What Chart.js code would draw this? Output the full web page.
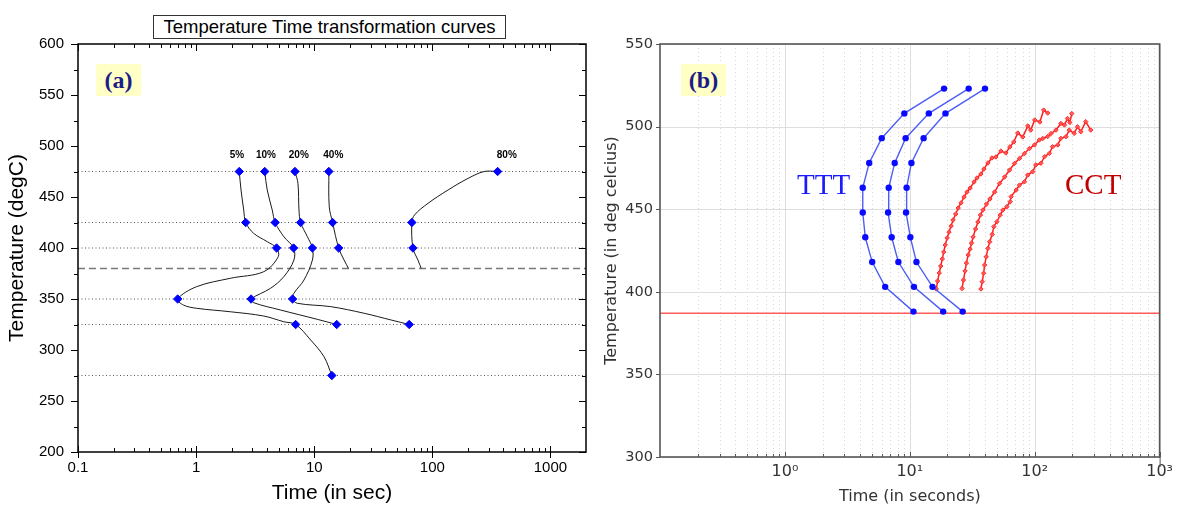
<!DOCTYPE html>
<html>
<head>
<meta charset="utf-8">
<script src="https://cdn.jsdelivr.net/npm/chart.js@4.4.1/dist/chart.umd.min.js"></script>
<style>
body { margin: 0; background: #fff; }
#page { position: relative; width: 1178px; height: 506px; overflow: hidden; background: #fff; }
.wrap { position: absolute; top: 0; height: 506px; }
#titleA {
    position: absolute; left: 153px; top: 15px; width: 351px; height: 22px;
    border: 1px solid #333; background: #fff; text-align: center; line-height: 22px;
    font-family: "Liberation Sans", Arial, sans-serif; font-size: 18.5px; color: #000;
}
.tag {
    position: absolute; width: 45px; height: 32px; background: #ffffc6; text-align: center;
    line-height: 32px; font-family: "Liberation Serif", "Times New Roman", serif;
    font-weight: bold; font-size: 24px; color: #1c1c86;
}
.big {
    position: absolute; top: 170px; font-family: "Liberation Serif", "Times New Roman", serif;
    font-size: 29px; line-height: 29px;
}
</style>
</head>
<body>
<div id="page">
    <div class="wrap" style="left:0;width:596px"><canvas id="chartA"></canvas></div>
    <div class="wrap" style="left:598px;width:580px"><canvas id="chartB"></canvas></div>
    <div id="titleA">Temperature Time transformation curves</div>
    <div class="tag" style="left:96px;top:64px">(a)</div>
    <div class="tag" style="left:681px;top:64px">(b)</div>
    <div class="big" style="left:797px;color:#1a1aff">TTT</div>
    <div class="big" style="left:1065px;color:#c20000">CCT</div>
</div>
<script>
// ---------- panel (a) ----------
var levelTempsA = [475, 425, 400, 350, 325, 275];
var dashedTempA = 380;
var timeTicksA = [0.1, 1, 10, 100, 1000];
var timeTickLabelsA = ['0.1', '1', '10', '100', '1000'];
var pctNames = ['5%', '10%', '20%', '40%', '80%'];
var pctTimes = [2.22, 3.9, 7.4, 14.5, 427];
var pctTemp = 491;

// diamonds [time (sec), temp]
var dia5 = [[2.32, 475], [2.63, 425], [4.80, 400], [0.698, 350], [6.96, 325], [14.1, 275]];
var dia10 = [[3.81, 475], [4.67, 425], [6.69, 400], [2.92, 350], [15.5, 325]];
var dia20 = [[6.87, 475], [7.67, 425], [9.65, 400], [6.56, 350], [63.7, 325]];
var dia40 = [[13.3, 475], [14.3, 425], [16.1, 400]];
var dia80 = [[357, 475], [67.1, 425], [68.5, 400]];

// black curves through the diamonds
var curve5 = [[2.32, 475], [2.40, 456.9], [2.53, 437.3], [2.63, 425], [3.07, 414.4], [4.0, 406.2], [4.80, 400],
    [4.96, 391.5], [3.74, 376.8], [1.95, 370.3], [1.01, 362.1], [0.698, 350], [0.78, 344.1], [1.01, 340.9],
    [1.95, 337.5], [3.74, 333.3], [5.53, 327.7], [6.96, 325], [9.33, 309.8], [12.1, 293.4], [14.1, 275]];
var curve10 = [[3.81, 475], [4.0, 456.9], [4.41, 437.3], [4.67, 425], [5.53, 411.1], [6.69, 400], [6.73, 388.2],
    [5.53, 371.9], [4.27, 360.5], [2.92, 350], [3.07, 346.4], [5.19, 339.2], [10.6, 330.1], [15.5, 325]];
var curve20 = [[6.87, 475], [7.28, 463.4], [7.43, 437.3], [7.67, 425], [8.75, 411.1], [9.65, 400], [9.65, 388.2],
    [8.19, 368.6], [6.73, 355.6], [6.56, 350], [7.19, 345.8], [13.8, 342.5], [26.5, 336], [44.8, 329.4], [63.7, 325]];
var curve40 = [[13.3, 475], [13.4, 440.5], [14.3, 425], [16.1, 400], [17.9, 388.2], [19.5, 380]];
var curve80 = [[357, 475], [275, 475], [201, 468.3], [136, 456.9], [91.9, 443.8], [70.7, 432.4], [67.1, 425],
    [68.5, 400], [75.5, 388.2], [80.5, 380]];

// ---------- panel (b) ----------
var redLineTemp = 387;
var timeTicksB = [1, 10, 100, 1000];
var timeTickLabelsB = ['10\u2070', '10\u00b9', '10\u00b2', '10\u00b3'];
var tttTemps = [388, 403, 418, 433, 448, 463, 478, 493, 508, 523];
var ttt1 = [10.7, 6.35, 5.0, 4.4, 4.2, 4.2, 4.73, 5.96, 9.04, 18.8];
var ttt2 = [18.5, 10.8, 8.1, 7.16, 6.7, 6.78, 7.57, 9.26, 14.2, 29.6];
var ttt3 = [26.5, 15.2, 11.3, 10.1, 9.33, 9.43, 10.3, 12.9, 19.3, 40];
var cct1 = [[16.3, 401.7], [16.7, 406.5], [17.2, 411.4], [17.7, 415.6], [18.2, 419.9], [18.7, 424.1], [19.2, 428.3],
    [19.9, 432.6], [20.6, 436.2], [21.4, 439.8], [22.2, 443.5], [23.3, 447.1], [24.4, 450.7], [25.7, 453.8],
    [27.2, 457.4], [28.7, 460.4], [30.4, 462.8], [32.7, 466.5], [34.5, 468.9], [37.1, 471.3], [39.2, 474.3],
    [42.2, 478.0], [45.4, 481.0], [48.9, 481.6], [53.6, 485.2], [58.8, 484.0], [63.2, 487.7], [68.0, 490.7],
    [73.2, 496.1], [80.2, 493.7], [88.0, 500.4], [92.9, 497.9], [100, 504.0], [110, 502.8], [118, 510.0], [127, 508.2]];
var cct2 = [[26.2, 402.0], [26.9, 407.1], [27.7, 412.6], [28.4, 417.4], [29.3, 422.3], [30.4, 425.9], [31.2, 429.5],
    [32.1, 433.2], [33.6, 438.0], [35.1, 442.3], [36.8, 446.5], [38.5, 449.5], [41.1, 453.1], [43.8, 456.2],
    [47.7, 460.4], [52.3, 465.6], [57.4, 469.5], [62.9, 473.7], [68.9, 477.7], [75.5, 480.7], [82.8, 483.7],
    [90.7, 486.7], [99.5, 488.9], [109, 491.9], [116, 492.8], [127, 494.0], [135, 495.8], [148, 497.9],
    [162, 501.9], [173, 501.0], [183, 504.9], [191, 502.5], [198, 507.9]];
var cct3 = [[37.1, 401.7], [38.0, 406.1], [39.0, 411.2], [39.7, 416.2], [40.9, 421.2], [42.2, 426.3], [43.6, 430.3],
    [45.7, 434.8], [47.1, 439.4], [49.8, 442.4], [52.9, 446.5], [55.6, 449.5], [59.8, 451.5], [63.6, 454.5],
    [64.7, 457.6], [71.0, 461.6], [75.5, 464.6], [82.8, 466.6], [87.9, 470.7], [96.4, 472.7], [102, 476.8],
    [112, 477.8], [120, 481.8], [131, 483.8], [139, 487.8], [153, 488.9], [162, 492.9], [178, 493.9],
    [189, 497.9], [207, 495.9], [220, 499.9], [234, 496.9], [256, 503.0], [281, 497.9]];

var fontA = '"Liberation Sans", Arial, sans-serif';
var fontB = '"DejaVu Sans", Verdana, sans-serif';

function xy(list) {
    return list.map(function (p) { return { x: p[0], y: p[1] }; });
}
function zipXY(times, temps) {
    return times.map(function (t, i) { return { x: t, y: temps[i] }; });
}
function seg(ctx, x0, y0, x1, y1) {
    ctx.beginPath();
    ctx.moveTo(x0, y0);
    ctx.lineTo(x1, y1);
    ctx.stroke();
}
// 2..9 x 10^k inside the axis range (minor tick / grid places)
function logMinors(min, max) {
    var out = [];
    for (var e = Math.floor(Math.log10(min)); e <= Math.ceil(Math.log10(max)); e++) {
        for (var d = 2; d <= 9; d++) {
            var v = d * Math.pow(10, e);
            if (v > min * 1.0001 && v < max * 0.9999) out.push(v);
        }
    }
    return out;
}

var frameA = {
    id: 'frameA',
    afterDatasetsDraw: function (chart) {
        var ctx = chart.ctx, a = chart.chartArea, x = chart.scales.x, y = chart.scales.y;
        ctx.save();
        ctx.strokeStyle = '#000';
        ctx.lineWidth = 1;
        timeTicksA.forEach(function (v) {
            var px = Math.round(x.getPixelForValue(v)) + 0.5;
            seg(ctx, px, a.bottom, px, a.bottom + 6);
            seg(ctx, px, a.bottom, px, a.bottom - 6);
            seg(ctx, px, a.top, px, a.top + 7);
        });
        logMinors(x.min, x.max).forEach(function (v) {
            var px = Math.round(x.getPixelForValue(v)) + 0.5;
            seg(ctx, px, a.bottom, px, a.bottom - 4);
            seg(ctx, px, a.top, px, a.top + 4);
        });
        for (var t = y.min; t <= y.max; t += 25) {
            var py = Math.round(y.getPixelForValue(t)) + 0.5;
            var major = t % 50 === 0;
            seg(ctx, a.left, py, a.left - (major ? 7 : 4), py);
            seg(ctx, a.right, py, a.right - (major ? 7 : 4), py);
        }
        ctx.lineWidth = 1.5;
        ctx.strokeRect(a.left, a.top, a.right - a.left, a.bottom - a.top);
        ctx.fillStyle = '#000';
        ctx.font = 'bold 10px ' + fontA;
        ctx.textAlign = 'center';
        ctx.textBaseline = 'middle';
        pctNames.forEach(function (name, i) {
            ctx.fillText(name, x.getPixelForValue(pctTimes[i]), y.getPixelForValue(pctTemp));
        });
        ctx.restore();
    }
};

var gridB = {
    id: 'gridB',
    beforeDatasetsDraw: function (chart) {
        var ctx = chart.ctx, a = chart.chartArea, x = chart.scales.x, y = chart.scales.y;
        ctx.save();
        ctx.lineWidth = 1;
        ctx.strokeStyle = '#d6d6d6';
        ctx.setLineDash([1, 3]);
        logMinors(x.min, x.max).forEach(function (v) {
            var px = Math.round(x.getPixelForValue(v)) + 0.5;
            seg(ctx, px, a.top, px, a.bottom);
        });
        ctx.setLineDash([]);
        ctx.strokeStyle = '#dedede';
        timeTicksB.forEach(function (v) {
            var px = Math.round(x.getPixelForValue(v)) + 0.5;
            seg(ctx, px, a.top, px, a.bottom);
        });
        y.ticks.forEach(function (t) {
            var py = Math.round(y.getPixelForValue(t.value)) + 0.5;
            seg(ctx, a.left, py, a.right, py);
        });
        ctx.restore();
    },
    afterDatasetsDraw: function (chart) {
        var ctx = chart.ctx, a = chart.chartArea, x = chart.scales.x, y = chart.scales.y;
        ctx.save();
        ctx.strokeStyle = '#555';
        ctx.lineWidth = 1;
        logMinors(x.min, x.max).forEach(function (v) {
            var px = Math.round(x.getPixelForValue(v)) + 0.5;
            seg(ctx, px, a.bottom, px, a.bottom - 3);
        });
        timeTicksB.forEach(function (v) {
            var px = Math.round(x.getPixelForValue(v)) + 0.5;
            seg(ctx, px, a.bottom, px, a.bottom - 5);
        });
        y.ticks.forEach(function (t) {
            var py = Math.round(y.getPixelForValue(t.value)) + 0.5;
            seg(ctx, a.left, py, a.left - 4, py);
        });
        seg(ctx, a.right + 0.5, a.bottom, a.right + 0.5, a.bottom + 10);
        ctx.lineWidth = 1.6;
        ctx.strokeRect(a.left, a.top, a.right - a.left, a.bottom - a.top);
        ctx.restore();
    }
};

// ---------- chart (a) ----------
var dsA = [];
[dia5, dia10, dia20, dia40, dia80].forEach(function (d) {
    dsA.push({
        data: xy(d), showLine: false, pointStyle: 'rectRot', pointRadius: 4.2,
        pointBackgroundColor: '#0000ff', pointBorderColor: '#0000ff', pointBorderWidth: 1
    });
});
[curve5, curve10, curve20, curve40, curve80].forEach(function (c) {
    dsA.push({ data: xy(c), borderColor: '#1a1a1a', borderWidth: 1, tension: 0.35, pointRadius: 0 });
});
dsA.push({
    data: [{ x: 0.1, y: dashedTempA }, { x: 2000, y: dashedTempA }],
    borderColor: '#7a7a7a', borderWidth: 1.5, borderDash: [7, 4], pointRadius: 0
});
levelTempsA.forEach(function (t) {
    dsA.push({
        data: [{ x: 0.1, y: t }, { x: 2000, y: t }],
        borderColor: '#555', borderWidth: 1, borderDash: [1, 2.5], pointRadius: 0
    });
});

new Chart(document.getElementById('chartA'), {
    type: 'line',
    data: { datasets: dsA },
    plugins: [frameA],
    options: {
        responsive: true,
        maintainAspectRatio: false,
        animation: false,
        layout: { padding: { top: 44, right: 10, left: 0, bottom: 0 } },
        plugins: { legend: { display: false }, tooltip: { enabled: false } },
        scales: {
            x: {
                type: 'logarithmic', min: 0.1, max: 2000,
                afterBuildTicks: function (s) { s.ticks = timeTicksA.map(function (v) { return { value: v }; }); },
                afterFit: function (s) { s.height = 54; },
                grid: { display: false, drawTicks: false },
                border: { display: false },
                ticks: {
                    autoSkip: false, maxRotation: 0, padding: 7, color: '#000',
                    font: { family: fontA, size: 15 },
                    callback: function (v, i) { return timeTickLabelsA[i]; }
                },
                title: { display: true, text: 'Time (in sec)', color: '#000', font: { family: fontA, size: 21 }, padding: { top: 0, bottom: 0 } }
            },
            y: {
                type: 'linear', min: 200, max: 600,
                afterFit: function (s) { s.width = 78; },
                grid: { display: false, drawTicks: false },
                border: { display: false },
                ticks: { stepSize: 50, padding: 14, color: '#000', font: { family: fontA, size: 15 } },
                title: { display: true, text: 'Temperature (degC)', color: '#000', font: { family: fontA, size: 21 }, padding: { top: 5, bottom: 0 } }
            }
        }
    }
});

// ---------- chart (b) ----------
var dsB = [];
[ttt1, ttt2, ttt3].forEach(function (times) {
    dsB.push({
        data: zipXY(times, tttTemps), borderColor: '#4d5ef4', borderWidth: 1.4, tension: 0,
        pointRadius: 3.2, pointStyle: 'circle', pointBackgroundColor: '#0a0aff', pointBorderColor: '#0a0aff', pointBorderWidth: 0
    });
});
[cct1, cct2, cct3].forEach(function (c) {
    dsB.push({
        data: xy(c), borderColor: '#ff1e1e', borderWidth: 1.5, tension: 0,
        pointRadius: 2.2, pointStyle: 'rectRot', pointBackgroundColor: 'rgba(255,90,90,0.9)',
        pointBorderColor: '#ff2a2a', pointBorderWidth: 1
    });
});
dsB.push({
    data: [{ x: 0.1, y: redLineTemp }, { x: 1000, y: redLineTemp }],
    borderColor: '#ff5c5c', borderWidth: 1.6, pointRadius: 0
});

new Chart(document.getElementById('chartB'), {
    type: 'line',
    data: { datasets: dsB },
    plugins: [gridB],
    options: {
        responsive: true,
        maintainAspectRatio: false,
        animation: false,
        layout: { padding: { top: 44, right: 15, left: 0, bottom: 0 } },
        plugins: { legend: { display: false }, tooltip: { enabled: false } },
        scales: {
            x: {
                type: 'logarithmic', min: 0.1, max: 1000,
                afterBuildTicks: function (s) { s.ticks = timeTicksB.map(function (v) { return { value: v }; }); },
                afterFit: function (s) { s.height = 49; },
                grid: { display: false, drawTicks: false },
                border: { display: false },
                ticks: {
                    autoSkip: false, maxRotation: 0, padding: 5, color: '#333',
                    font: { family: fontB, size: 16 },
                    callback: function (v, i) { return timeTickLabelsB[i]; }
                },
                title: { display: true, text: 'Time (in seconds)', color: '#333', font: { family: fontB, size: 16 }, padding: { top: 1, bottom: 0 } }
            },
            y: {
                type: 'linear', min: 300, max: 550,
                afterFit: function (s) { s.width = 62; },
                grid: { display: false, drawTicks: false },
                border: { display: false },
                ticks: { stepSize: 50, padding: 7, color: '#333', font: { family: fontB, size: 14.5 } },
                title: { display: true, text: 'Temperature (in deg celcius)', color: '#333', font: { family: fontB, size: 16 }, padding: { top: 4, bottom: 0 } }
            }
        }
    }
});
</script>
</body>
</html>
